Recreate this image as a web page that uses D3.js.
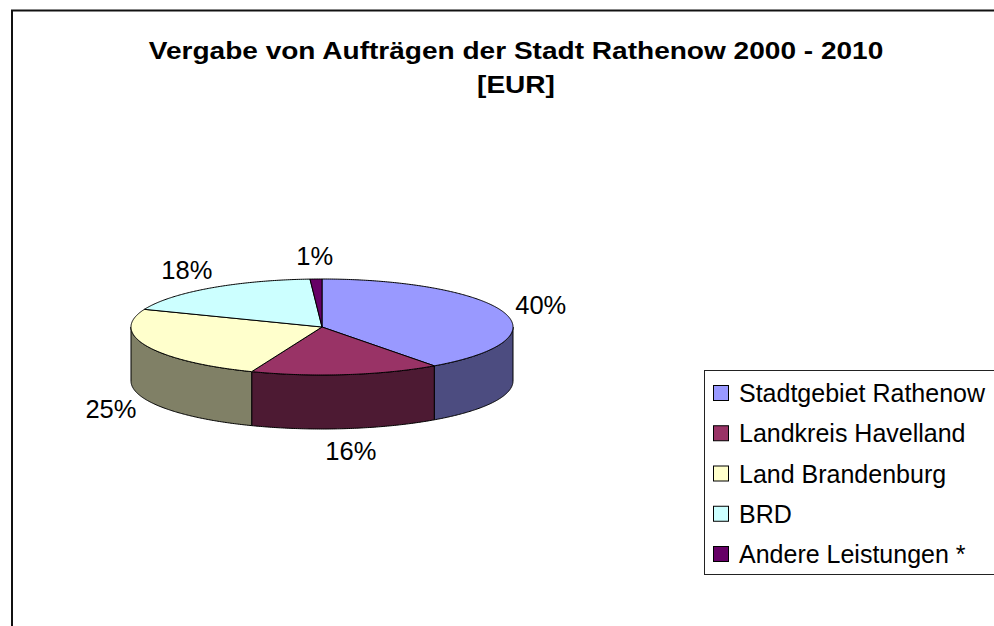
<!DOCTYPE html>
<html>
<head>
<meta charset="utf-8">
<script src="https://cdn.jsdelivr.net/npm/d3@7"></script>
<style>
  body { margin: 0; background: #fff; }
  svg { display: block; }
  text { font-family: "Liberation Sans", Arial, sans-serif; fill: #000; }
</style>
</head>
<body>
<svg id="chart" width="994" height="626"></svg>
<script>
// Shares of contract awards by recipient region (percent)
const categories = ["Stadtgebiet Rathenow", "Landkreis Havelland", "Land Brandenburg", "BRD", "Andere Leistungen *"];
const shares = [40, 16, 25, 18, 1];
const topColors = ["#9999FF", "#993366", "#FFFFCC", "#CCFFFF", "#660066"];
const sideColors = ["#4C4C80", "#4D1A33", "#808066", "#668080", "#330033"];
const titleLines = ["Vergabe von Aufträgen der Stadt Rathenow 2000 - 2010", "[EUR]"];

const svg = d3.select("#chart");

// Chart area frame (runs off the right and bottom edges)
svg.append("rect")
  .attr("x", 12).attr("y", 10.5)
  .attr("width", 1010).attr("height", 700)
  .attr("fill", "#fff").attr("stroke", "#111").attr("stroke-width", 2);

// Title, slightly widened horizontally
svg.append("g").selectAll("text").data(titleLines).join("text")
  .attr("transform", (d, i) => `translate(516,${59 + i * 34}) scale(1.145,1)`)
  .attr("text-anchor", "middle")
  .attr("font-size", 24.5)
  .attr("font-weight", "bold")
  .text(d => d);

// 3D pie geometry
const cx = 322, cy = 327, rx = 191, ry = 48, depth = 54;
const pie = d3.pie().sort(null).startAngle(0).endAngle(2 * Math.PI).value(d => d);
const arcs = pie(shares);

const pt = (a, dz) => [cx + rx * Math.sin(a), cy - ry * Math.cos(a) + dz];
function arcPts(a0, a1, dz) {
  const n = Math.max(2, Math.ceil(Math.abs(a1 - a0) / 0.01));
  return d3.range(n + 1).map(i => pt(a0 + (a1 - a0) * i / n, dz));
}
const line = d3.line().curve(d3.curveLinear);

const pieG = svg.append("g");

// Outer walls on the front half of the ellipse
arcs.forEach((a, i) => {
  const b0 = Math.max(a.startAngle, Math.PI / 2);
  const b1 = Math.min(a.endAngle, 3 * Math.PI / 2);
  if (b1 <= b0) return;
  const pts = arcPts(b0, b1, 0).concat(arcPts(b1, b0, depth));
  pieG.append("path")
    .attr("d", line(pts) + "Z")
    .attr("fill", sideColors[i])
    .attr("stroke", "#000").attr("stroke-width", 1)
    .attr("stroke-linejoin", "round");
});

// Top faces
arcs.forEach((a, i) => {
  const pts = [[cx, cy]].concat(arcPts(a.startAngle, a.endAngle, 0));
  pieG.append("path")
    .attr("d", line(pts) + "Z")
    .attr("fill", topColors[i])
    .attr("stroke", "#000").attr("stroke-width", 1)
    .attr("stroke-linejoin", "round");
});

// Percentage labels outside each slice
const lrx = 230, lry = 71;
svg.append("g").selectAll("text").data(arcs).join("text")
  .attr("x", a => cx + lrx * Math.sin((a.startAngle + a.endAngle) / 2))
  .attr("y", a => {
    const m = (a.startAngle + a.endAngle) / 2;
    return cy - lry * Math.cos(m) + (Math.cos(m) < 0 ? depth : 0);
  })
  .attr("text-anchor", "middle")
  .attr("dominant-baseline", "central")
  .attr("font-size", 25.5)
  .text(a => a.data + "%");

// Legend
const legendY = d3.scalePoint().domain(categories).range([393, 554]);
const legend = svg.append("g");
legend.append("rect")
  .attr("x", 704.5).attr("y", 370.5)
  .attr("width", 400).attr("height", 204)
  .attr("fill", "#fff").attr("stroke", "#222").attr("stroke-width", 1);
const items = legend.selectAll("g.item").data(categories).join("g").attr("class", "item")
  .attr("transform", d => `translate(0,${legendY(d)})`);
items.append("rect")
  .attr("x", 713.5).attr("y", -7.5).attr("width", 15).attr("height", 15)
  .attr("fill", (d, i) => topColors[i]).attr("stroke", "#000").attr("stroke-width", 1);
items.append("text")
  .attr("x", 739).attr("y", 0)
  .attr("dominant-baseline", "central")
  .attr("font-size", 25)
  .text(d => d);
</script>
</body>
</html>
